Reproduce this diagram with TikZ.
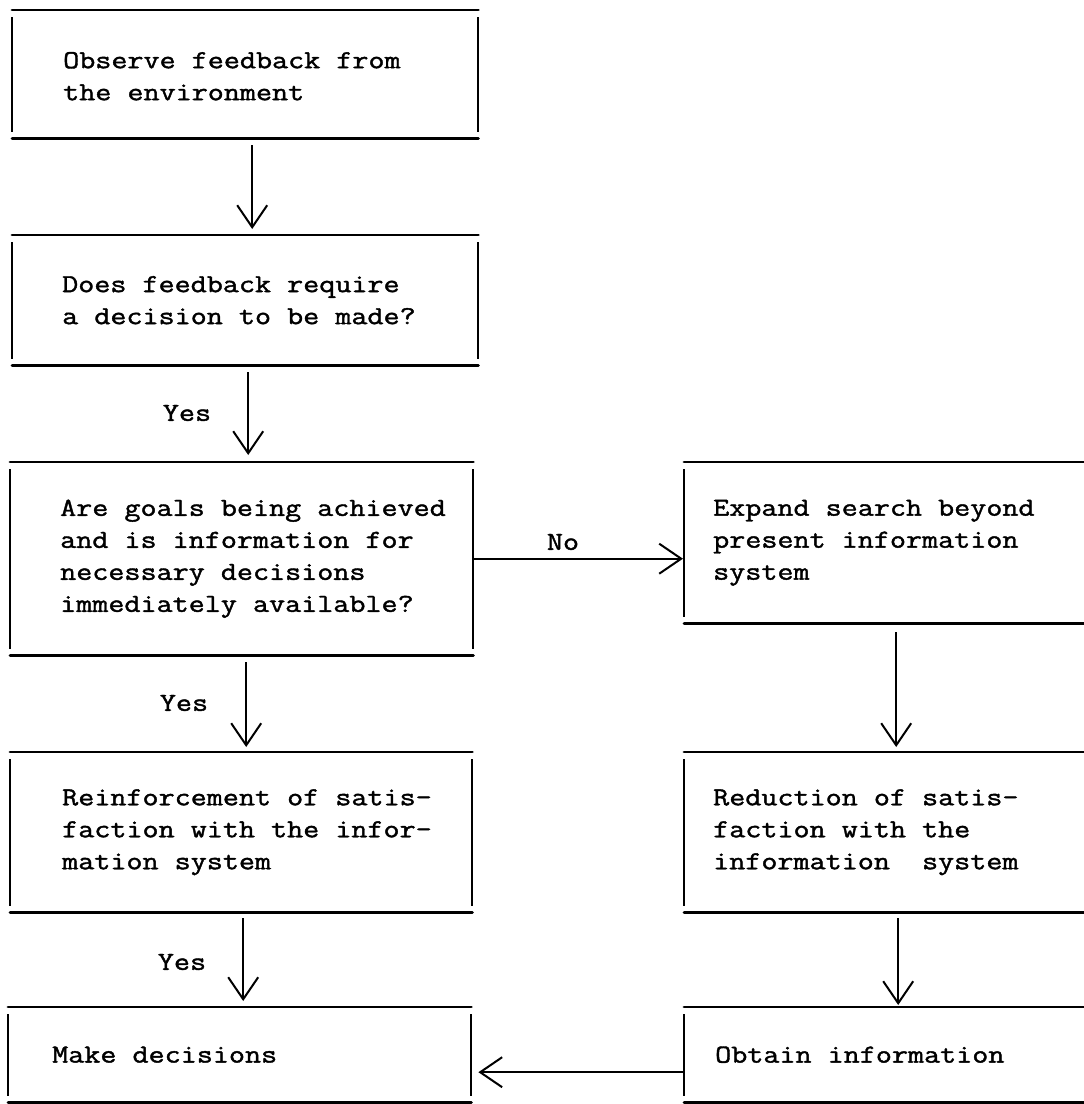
\documentclass[tikz,border=0pt]{standalone}
\usepackage{fontspec}
\setmonofont{Latin Modern Mono}[FakeStretch=1.2, FakeBold=1.5]
\usetikzlibrary{arrows.meta}
\tikzset{
  frame/.style={rectangle, inner sep=0pt, draw=none},
  hline/.style={line width=2.8pt, line cap=round},
  vline/.style={line width=1.9pt},
  txt/.style={align=left, inner sep=0pt, font=\ttfamily\fontsize{26pt}{32pt}\selectfont},
  lbl/.style={inner sep=0pt, font=\ttfamily\fontsize{26pt}{32pt}\selectfont},
  arr/.style={line width=2pt, -{Straight Barb[length=22pt,width=30pt]}}
}
\newcommand\fullbox[1]{%
  \draw[hline] (#1.north west) -- (#1.north east);
  \draw[hline] (#1.south west) -- (#1.south east);
  \draw[vline] ([yshift=-7pt]#1.north west) -- ([yshift=6pt]#1.south west);
  \draw[vline] ([yshift=-7pt]#1.north east) -- ([yshift=6pt]#1.south east);}
\newcommand\openbox[1]{%
  \draw[hline] (#1.north west) -- (#1.north east);
  \draw[hline] (#1.south west) -- (#1.south east);
  \draw[vline] ([yshift=-7pt]#1.north west) -- ([yshift=6pt]#1.south west);}
\begin{document}
\begin{tikzpicture}[x=1pt,y=-1pt]
\useasboundingbox (0,0) rectangle (1084,1104);
% frames
\node[frame, anchor=north west, minimum width=466pt, minimum height=128pt] (b1) at (12,10) {};
\node[frame, anchor=north west, minimum width=466pt, minimum height=130pt] (b2) at (12,235) {};
\node[frame, anchor=north west, minimum width=463pt, minimum height=193pt] (b3) at (10,462) {};
\node[frame, anchor=north west, minimum width=400pt, minimum height=161pt] (b4) at (684,462) {};
\node[frame, anchor=north west, minimum width=462pt, minimum height=160pt] (b5) at (10,752) {};
\node[frame, anchor=north west, minimum width=400pt, minimum height=160pt] (b6) at (684,752) {};
\node[frame, anchor=north west, minimum width=463pt, minimum height=95pt] (b7) at (8,1007) {};
\node[frame, anchor=north west, minimum width=400pt, minimum height=95pt] (b8) at (684,1007) {};
\fullbox{b1}\fullbox{b2}\fullbox{b3}\fullbox{b5}\fullbox{b7}
\openbox{b4}\openbox{b6}\openbox{b8}
% texts
\node[txt, anchor=west] (t1) at ([xshift=51pt,yshift=-2pt]b1.west) {Observe feedback from\\the environment};
\node[txt, anchor=west] (t2) at ([xshift=50pt]b2.west) {Does feedback require\\a decision to be made?};
\node[txt, anchor=west] (t3) at ([xshift=50pt]b3.west) {Are goals being achieved\\and is information for\\necessary decisions\\immediately available?};
\node[txt, anchor=west] (t4) at ([xshift=29pt]b4.west) {Expand search beyond\\present information\\system};
\node[txt, anchor=west] (t5) at ([xshift=52pt]b5.west) {Reinforcement of satis-\\faction with the infor-\\mation system};
\node[txt, anchor=west] (t6) at ([xshift=29pt]b6.west) {Reduction of satis-\\faction with the\\information\ \ system};
\node[txt, anchor=west] (t7) at ([xshift=44pt]b7.west) {Make decisions};
\node[txt, anchor=west] (t8) at ([xshift=31pt]b8.west) {Obtain information};
% connectors
\draw[arr, shorten <=7pt, shorten >=6pt] ([xshift=7pt]b1.south) -- ([xshift=7pt]b2.north);
\draw[arr, shorten <=7pt, shorten >=7pt] ([xshift=3pt]b2.south) -- ([xshift=3pt]b2.south |- b3.north);
\draw[arr, shorten <=7pt, shorten >=5pt] ([xshift=4.5pt]b3.south) -- ([xshift=4.5pt]b3.south |- b5.north);
\draw[arr, shorten <=6pt, shorten >=6pt] ([xshift=2pt]b5.south) -- ([xshift=2pt]b5.south |- b7.north);
\draw[arr, shorten <=1pt, shorten >=1pt] (b3.east) -- (b3.east -| b4.west);
\draw[arr, shorten <=9pt, shorten >=5pt] ([xshift=12pt]b4.south) -- ([xshift=12pt]b6.north);
\draw[arr, shorten <=6pt, shorten >=2pt] ([xshift=14pt]b6.south) -- ([xshift=14pt]b8.north);
\draw[arr, shorten <=1pt, shorten >=7pt] ([yshift=-17.5pt]b8.west) -- ([yshift=-17.5pt]b8.west -| b7.east);
% labels
\node[lbl] (yes1) at (187,413) {Yes};
\node[lbl] (yes2) at (184,703) {Yes};
\node[lbl] (yes3) at (182,962) {Yes};
\node[lbl] (no1) at (563,542) {No};
\end{tikzpicture}
\end{document}
